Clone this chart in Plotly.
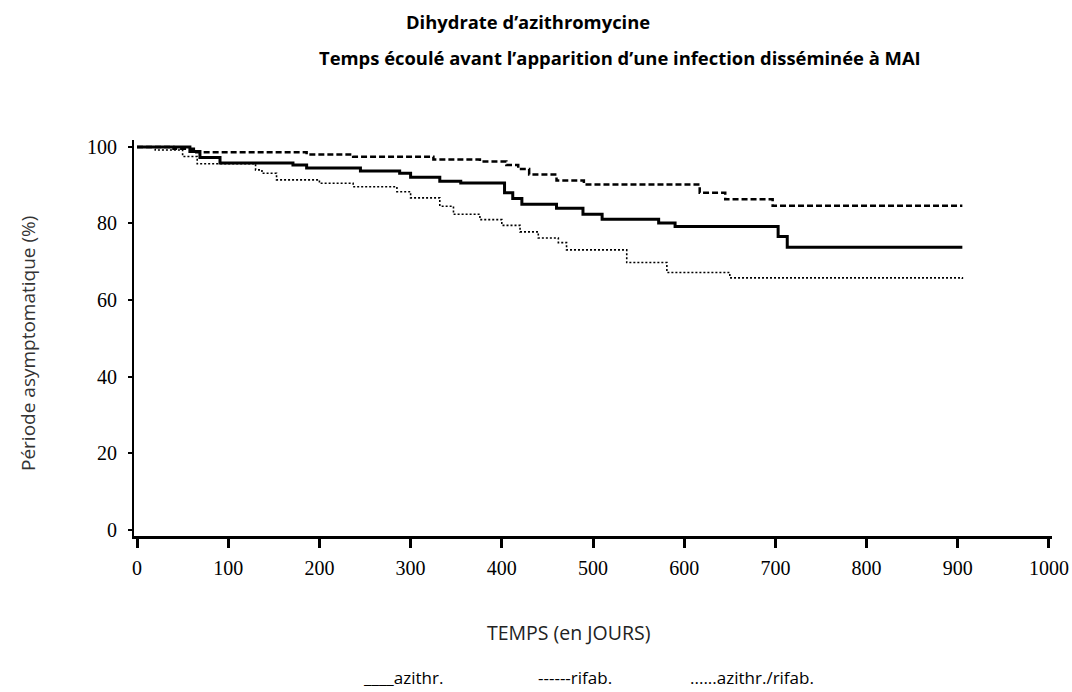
import plotly.graph_objects as go

# Kaplan-Meier style step data (day, % asymptomatic)
azithr_days = [0, 58, 69, 91, 171, 186, 245, 288, 300, 332, 355, 403, 412, 422, 460, 489, 510, 572, 590, 703, 713, 905]
azithr_vals = [100, 98.8, 97.2, 95.8, 95.3, 94.5, 93.7, 93.1, 92.1, 91.0, 90.6, 88.0, 86.5, 85.0, 84.0, 82.4, 81.1, 80.1, 79.2, 76.6, 73.8, 73.8]

rifab_days = [0, 40, 65, 186, 237, 325, 376, 405, 418, 430, 460, 490, 617, 645, 697, 905]
rifab_vals = [100, 99.5, 98.6, 98.0, 97.4, 96.7, 96.2, 95.3, 94.2, 92.8, 91.2, 90.2, 88.0, 86.3, 84.6, 84.6]

combo_days = [0, 20, 50, 66, 130, 137, 153, 200, 237, 285, 300, 332, 347, 376, 400, 420, 440, 462, 471, 537, 581, 650, 905]
combo_vals = [100, 99.2, 97.5, 95.6, 94.0, 93.1, 91.4, 90.5, 89.6, 88.3, 86.7, 84.5, 82.4, 81.0, 79.5, 77.8, 76.2, 75.0, 73.1, 69.8, 67.2, 65.8, 65.5]

x_ticks = [0, 100, 200, 300, 400, 500, 600, 700, 800, 900, 1000]
y_ticks = [0, 20, 40, 60, 80, 100]

title_main = "Dihydrate d’azithromycine"
title_sub = "Temps écoulé avant l’apparition d’une infection disséminée à MAI"
x_title = "TEMPS (en JOURS)"
y_title = "Période asymptomatique (%)"
legend_labels = ["____azithr.", "------rifab.", "......azithr./rifab."]

fig = go.Figure()
fig.add_trace(go.Scatter(x=rifab_days, y=rifab_vals, mode="lines", line_shape="hv",
                         line=dict(color="black", width=2.5, dash="6px,3px"), name="rifab."))
fig.add_trace(go.Scatter(x=combo_days, y=combo_vals, mode="lines", line_shape="hv",
                         line=dict(color="black", width=1.6, dash="2px,2px"), name="azithr./rifab."))
fig.add_trace(go.Scatter(x=azithr_days, y=azithr_vals, mode="lines", line_shape="hv",
                         line=dict(color="black", width=3), name="azithr."))

L, T, W, H = 134, 140, 918, 396

def px(x):
    return (x - L) / W

def py(y):
    return (T + H - y) / H

ann = []
ann.append(dict(text="<b>" + title_main + "</b>", x=px(528), y=py(22), font=dict(size=18.4, family="Open Sans", color="black")))
ann.append(dict(text="<b>" + title_sub + "</b>", x=px(620), y=py(57), font=dict(size=18.4, family="Open Sans", color="black")))
ann.append(dict(text=x_title, x=px(568), y=py(632), font=dict(size=19.5, family="Open Sans", color="#222")))
ann.append(dict(text=y_title, x=px(28), y=py(344), textangle=-90, font=dict(size=19, family="Open Sans", color="#333")))
for lab, cx in zip(legend_labels, [403, 575, 752]):
    ann.append(dict(text=lab, x=px(cx), y=py(677), font=dict(size=17, family="Open Sans", color="black")))
for a in ann:
    a.update(xref="paper", yref="paper", showarrow=False, xanchor="center", yanchor="middle")

fig.update_layout(
    width=1072, height=692,
    margin=dict(l=L, r=1072 - L - W, t=T, b=692 - T - H),
    paper_bgcolor="white", plot_bgcolor="white",
    showlegend=False,
    annotations=ann,
    xaxis=dict(range=[-3.3, 1003.3], tickvals=x_ticks, ticks="outside", ticklen=9, tickwidth=3,
               tickcolor="black", showline=True, linecolor="black", linewidth=3, showgrid=False,
               zeroline=False, ticklabelstandoff=3, automargin=False,
               tickfont=dict(family="Liberation Serif", size=20, color="black")),
    yaxis=dict(range=[-1.6, 101.8], tickvals=y_ticks, ticks="outside", ticklen=4, tickwidth=2,
               tickcolor="black", showline=True, linecolor="black", linewidth=2, showgrid=False,
               zeroline=False, ticklabelstandoff=7, automargin=False,
               tickfont=dict(family="Liberation Serif", size=20, color="black")),
)

fig.write_html("out.html", config={"displayModeBar": False},
               post_script="document.body.style.margin='0';document.body.style.overflow='hidden';")
